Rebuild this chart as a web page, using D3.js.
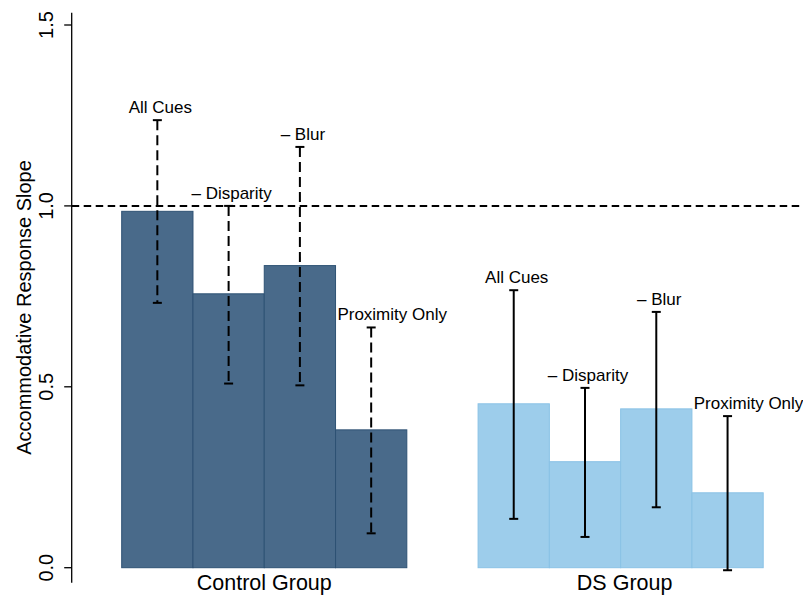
<!DOCTYPE html>
<html>
<head>
<meta charset="utf-8">
<script src="https://cdn.jsdelivr.net/npm/d3@7"></script>
<style>
  html, body { margin: 0; padding: 0; background: #fff; }
  svg { display: block; }
  text { font-family: "Liberation Sans", Arial, Helvetica, sans-serif; fill: #000; }
</style>
</head>
<body>
<svg id="chart" width="803" height="596"></svg>
<script>
// Accommodative response slope by cue condition, for two groups
const groups = ["Control Group", "DS Group"];
const conditions = ["All Cues", "\u2013 Disparity", "\u2013 Blur", "Proximity Only"];
const controlSlope = [0.985, 0.757, 0.835, 0.381];
const controlLow   = [0.732, 0.509, 0.504, 0.095];
const controlHigh  = [1.237, 1.000, 1.163, 0.664];
const dsSlope = [0.453, 0.293, 0.439, 0.207];
const dsLow   = [0.135, 0.085, 0.167, -0.007];
const dsHigh  = [0.767, 0.497, 0.707, 0.419];
const yTicks = [0, 0.5, 1.0, 1.5];
const referenceSlope = 1.0;

const series = [
  { group: groups[0], slope: controlSlope, low: controlLow, high: controlHigh,
    fill: "#496a8a", stroke: "#2e5274", dashed: true },
  { group: groups[1], slope: dsSlope, low: dsLow, high: dsHigh,
    fill: "#9dcdeb", stroke: "#8ac2e6", dashed: false }
];

const W = 803, H = 596;
const svg = d3.select("#chart");

// y scale: value -> pixel
const y = d3.scaleLinear().domain([0, 1.5]).range([567.7, 25]);
// x scale in bar-width units; groups separated by a one-bar gap
const x = d3.scaleLinear().domain([0, 9]).range([121.7, 763.2]);
const perGroup = conditions.length;
const slotStart = (g, i) => g * (perGroup + 1) + i;

// bars
series.forEach((s, g) => {
  svg.append("g").selectAll("rect")
    .data(s.slope)
    .join("rect")
    .attr("x", (d, i) => x(slotStart(g, i)))
    .attr("width", (d, i) => x(slotStart(g, i) + 1) - x(slotStart(g, i)))
    .attr("y", d => y(d))
    .attr("height", d => y(0) - y(d))
    .attr("fill", s.fill)
    .attr("stroke", s.stroke)
    .attr("stroke-width", 1);
});

// reference line at slope 1
const axisX = 71.7;
svg.append("line")
  .attr("x1", axisX).attr("x2", W)
  .attr("y1", y(referenceSlope)).attr("y2", y(referenceSlope))
  .attr("stroke", "#000").attr("stroke-width", 2)
  .attr("stroke-dasharray", "7.5,4.5");

// error bars and condition labels
const capHalf = 4.5;
series.forEach((s, g) => {
  const eg = svg.append("g");
  s.slope.forEach((v, i) => {
    const cx = x(slotStart(g, i) + 0.5);
    const top = y(s.high[i]), bot = y(s.low[i]);
    eg.append("line")
      .attr("x1", cx).attr("x2", cx).attr("y1", top).attr("y2", bot)
      .attr("stroke", "#000").attr("stroke-width", 2)
      .attr("stroke-dasharray", s.dashed ? "10,5" : null);
    [top, bot].forEach(cy => {
      eg.append("line")
        .attr("x1", cx - capHalf).attr("x2", cx + capHalf)
        .attr("y1", cy).attr("y2", cy)
        .attr("stroke", "#000").attr("stroke-width", 2);
    });
    // the long last label is nudged right so it clears its neighbour
    const nudge = i === perGroup - 1 ? 21 : 3;
    eg.append("text")
      .attr("x", cx + nudge)
      .attr("y", top - 7)
      .attr("text-anchor", "middle")
      .attr("font-size", 17)
      .text(conditions[i]);
  });
});

// group labels
series.forEach((s, g) => {
  svg.append("text")
    .attr("x", (x(slotStart(g, 0)) + x(slotStart(g, perGroup))) / 2 + g * 4)
    .attr("y", 590)
    .attr("text-anchor", "middle")
    .attr("font-size", 21.5)
    .text(s.group);
});

// y axis
const axis = svg.append("g").attr("transform", `translate(${axisX},0)`);
axis.append("line")
  .attr("x1", 0).attr("x2", 0).attr("y1", 12.7).attr("y2", 582.7)
  .attr("stroke", "#000").attr("stroke-width", 1.3);
axis.selectAll("line.tick")
  .data(yTicks)
  .join("line")
  .attr("class", "tick")
  .attr("x1", -7.5).attr("x2", 0)
  .attr("y1", d => y(d)).attr("y2", d => y(d))
  .attr("stroke", "#000").attr("stroke-width", 1.3);
axis.selectAll("text.tick")
  .data(yTicks)
  .join("text")
  .attr("class", "tick")
  .attr("transform", d => `translate(-18.5,${y(d)}) rotate(-90)`)
  .attr("text-anchor", "middle")
  .attr("font-size", 20)
  .text(d => d3.format(".1f")(d));

// y axis title
svg.append("text")
  .attr("transform", `translate(30.5,${(160 + 455) / 2}) rotate(-90)`)
  .attr("text-anchor", "middle")
  .attr("font-size", 20)
  .text("Accommodative Response Slope");
</script>
</body>
</html>
